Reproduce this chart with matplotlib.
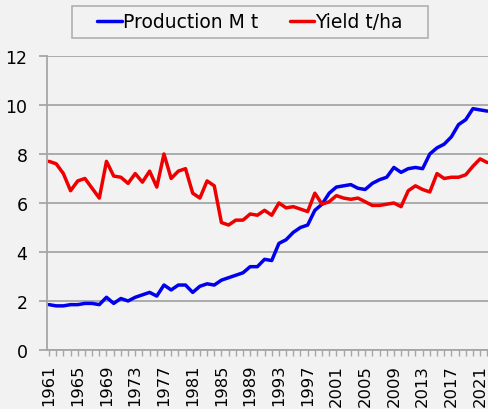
import numpy as np
import matplotlib
matplotlib.use("Agg")
import matplotlib.pyplot as plt
from matplotlib.ticker import MultipleLocator
from matplotlib.patches import Rectangle

years = list(range(1961, 2023))

# production, million tonnes
production = [1.85, 1.80, 1.80, 1.85, 1.85, 1.90, 1.90, 1.85, 2.15, 1.90,
              2.10, 2.00, 2.15, 2.25, 2.35, 2.20, 2.65, 2.45, 2.65, 2.65,
              2.35, 2.60, 2.70, 2.65, 2.85, 2.95, 3.05, 3.15, 3.40, 3.40,
              3.70, 3.65, 4.35, 4.50, 4.80, 5.00, 5.10, 5.70, 5.95, 6.40,
              6.65, 6.70, 6.75, 6.60, 6.55, 6.80, 6.95, 7.05, 7.45, 7.25,
              7.40, 7.45, 7.40, 8.00, 8.25, 8.40, 8.70, 9.20, 9.40, 9.85,
              9.80, 9.75]

# yield, t/ha
yld = [7.70, 7.60, 7.20, 6.50, 6.90, 7.00, 6.60, 6.20, 7.70, 7.10,
       7.05, 6.80, 7.20, 6.85, 7.30, 6.65, 8.00, 7.00, 7.30, 7.40,
       6.40, 6.20, 6.90, 6.70, 5.20, 5.10, 5.30, 5.30, 5.55, 5.50,
       5.70, 5.50, 6.00, 5.80, 5.85, 5.75, 5.65, 6.40, 5.95, 6.05,
       6.30, 6.20, 6.15, 6.20, 6.05, 5.90, 5.90, 5.95, 6.00, 5.85,
       6.50, 6.70, 6.55, 6.45, 7.20, 7.00, 7.05, 7.05, 7.15, 7.50,
       7.80, 7.65]

label_years = years[::4]

bg = "#f2f2f2"
plt.rcParams['font.family'] = ['DejaVu Sans']

fig = plt.figure(figsize=(4.88, 4.10), dpi=100, facecolor=bg)
ax = fig.add_axes([0.0963, 0.144, 0.9037, 0.717])
ax.set_facecolor(bg)

ax.plot(years, production, color="#0000ee", lw=2.5, label="Production M t", solid_capstyle="round")
ax.plot(years, yld, color="#ee0000", lw=2.5, label="Yield t/ha", solid_capstyle="round")

ax.set_xlim(1960.72, 2022.1)
ax.set_ylim(0, 12)
ax.set_yticks(range(0, 13, 2))
ax.set_xticks(label_years)
ax.set_xticklabels([str(y) for y in label_years], rotation=90)
ax.xaxis.set_minor_locator(MultipleLocator(1))
ax.grid(axis="y", color="#a6a6a6", lw=1.3)
ax.set_axisbelow(True)

for s in ["top", "right"]:
    ax.spines[s].set_visible(False)
for s in ["left", "bottom"]:
    ax.spines[s].set_color("#a6a6a6")
    ax.spines[s].set_linewidth(1.3)

ax.tick_params(axis="y", length=6, width=1.3, color="#a6a6a6", labelsize=12.5, pad=8)
ax.tick_params(axis="x", which="both", length=4, width=1.0, color="#a6a6a6",
               labelsize=11.8, pad=6)

# legend without its own frame, box drawn separately (wider padding)
leg = fig.legend(loc="center", bbox_to_anchor=(0.512, 0.944), ncol=2,
                 frameon=False, fontsize=13.5, handlelength=1.3,
                 handletextpad=0.05, columnspacing=1.7)
fig.patches.append(Rectangle((72 / 488, 1 - 39 / 410), 356 / 488, 32 / 410,
                             transform=fig.transFigure, facecolor="none",
                             edgecolor="#b0b0b0", lw=1.2))

fig.savefig("out.png", dpi=100, facecolor=bg)
